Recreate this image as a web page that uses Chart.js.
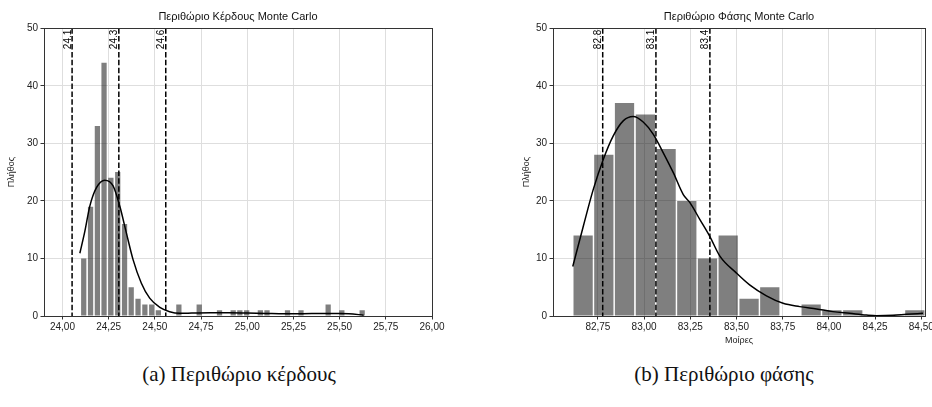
<!DOCTYPE html>
<html><head><meta charset="utf-8">
<script src="https://cdn.jsdelivr.net/npm/chart.js@4.4.1/dist/chart.umd.min.js"></script>
<style>
html,body{margin:0;padding:0;background:#fff;overflow:hidden;width:932px;height:407px;position:relative;}
#cL{position:absolute;left:0;top:0;}
#cR{position:absolute;left:509px;top:0;}
.cap{position:absolute;top:361px;font-family:"Liberation Serif",serif;font-size:21px;color:#111;white-space:nowrap;transform:translateX(-50%);line-height:26px;}
</style></head><body>
<canvas id="cL" width="460" height="340"></canvas>
<canvas id="cR" width="440" height="360"></canvas>
<div class="cap" style="left:239px">(a) Περιθώριο κέρδους</div>
<div class="cap" style="left:724px">(b) Περιθώριο φάσης</div>
<script>
// ---- Left: gain margin ----
const titleL = 'Περιθώριο Κέρδους Monte Carlo';
const binsL = [24.115,24.152,24.189,24.225,24.262,24.299,24.336,24.372,24.409,24.446,24.483,24.519,24.556,24.593,24.630,24.666,24.703,24.740,24.776,24.813,24.850,24.887,24.924,24.960,24.997,25.034,25.071,25.107,25.144,25.181,25.218,25.254,25.291,25.328,25.365,25.401,25.438,25.475,25.512,25.548,25.585,25.622];
const countsL = [10,19,33,44,24,25,16,5,3,2,2,1,0,0,2,0,0,2,0,0,1,0,1,1,1,0,1,1,0,0,1,0,1,0,0,0,2,0,1,0,0,1];
const kdeLx = [24.094,24.121,24.148,24.184,24.229,24.274,24.31,24.346,24.382,24.427,24.472,24.527,24.58,24.635,24.7,24.8,24.9,25.0,25.1,25.2,25.3,25.4,25.5,25.55,25.63];
const kdeLy = [10.9,14.7,19.1,22.3,23.6,22.6,19.1,14.4,9.8,5.7,3.1,1.5,0.75,0.47,0.5,0.55,0.55,0.5,0.45,0.4,0.4,0.45,0.45,0.4,0.15];
const vlinesL = [24.052,24.305,24.559];
const vlabelsL = ['24.1','24.3','24.6'];
const xTicksL = [24.00,24.25,24.50,24.75,25.00,25.25,25.50,25.75,26.00];

// ---- Right: phase margin ----
const titleR = 'Περιθώριο Φάσης Monte Carlo';
const binsR = [82.670,82.782,82.894,83.007,83.119,83.231,83.343,83.455,83.568,83.680,83.792,83.904,84.016,84.129,84.241,84.353,84.465];
const countsR = [14,28,37,35,29,20,10,14,3,5,0,2,1,1,0,0,1];
const kdeRx = [82.614,82.671,82.725,82.779,82.833,82.887,82.941,82.995,83.049,83.103,83.158,83.212,83.248,83.302,83.356,83.410,83.500,83.571,83.662,83.752,83.842,83.933,84.022,84.112,84.203,84.257,84.347,84.419,84.509];
const kdeRy = [8.6,15.6,22,27.2,31.3,33.9,34.65,33.7,31.6,28.4,24.9,21.1,19.7,16.75,13.8,10.4,7.45,5.4,3.5,2.2,1.63,1.22,0.76,0.47,0.17,0.06,0.12,0.29,0.47];
const vlinesR = [82.776,83.064,83.356];
const vlabelsR = ['82.8','83.1','83.4'];
const xTicksR = [82.75,83.00,83.25,83.50,83.75,84.00,84.25,84.50];

const yTicks = [0,10,20,30,40,50];
const yTitle = 'Πλήθος';
const xTitleR = 'Μοίρες';

const FONT = '"Liberation Sans", Arial, sans-serif';
const fmt = v => Number(v).toFixed(2).replace('.', ',');

const decor = {
  id: 'decor',
  afterDatasetsDraw(chart, args, opts) {
    const {ctx, chartArea: a, scales: {x}} = chart;
    ctx.save();
    opts.values.forEach((v, i) => {
      const px = x.getPixelForValue(v);
      ctx.strokeStyle = '#000';
      ctx.lineWidth = 1.5;
      ctx.setLineDash([5.5, 2.4]);
      ctx.beginPath();
      ctx.moveTo(px, a.top);
      ctx.lineTo(px, a.bottom);
      ctx.stroke();
      ctx.setLineDash([]);
      ctx.save();
      ctx.translate(px - 1.5, a.top + 1.5);
      ctx.rotate(-Math.PI / 2);
      ctx.font = '10px ' + FONT;
      ctx.fillStyle = '#000';
      ctx.textAlign = 'right';
      ctx.textBaseline = 'alphabetic';
      ctx.fillText(opts.labels[i], 0, 0);
      ctx.restore();
    });
    ctx.strokeStyle = '#333';
    ctx.lineWidth = 1;
    ctx.strokeRect(Math.round(a.left) + 0.5, Math.round(a.top) + 0.5, Math.round(a.right) - Math.round(a.left), Math.round(a.bottom) - Math.round(a.top));
    ctx.restore();
  }
};

function build(id, o) {
  const bars = o.bins.map((b, i) => ({x: b, y: o.counts[i]}));
  const kde = o.kx.map((v, i) => ({x: v, y: o.ky[i]}));
  return new Chart(document.getElementById(id), {
    type: 'bar',
    data: {
      datasets: [
        {type: 'line', data: kde, borderColor: '#000', borderWidth: 1.5, pointRadius: 0, fill: false, cubicInterpolationMode: 'monotone', order: 0},
        {type: 'bar', data: bars, backgroundColor: 'rgba(0,0,0,0.5)', borderWidth: 0, barPercentage: o.barPct, categoryPercentage: 1, order: 1}
      ]
    },
    options: {
      responsive: false,
      animation: false,
      devicePixelRatio: 1,
      layout: {padding: {left: 0, right: o.padRight, top: 0, bottom: 0}},
      plugins: {
        legend: {display: false},
        tooltip: {enabled: false},
        title: {display: true, text: o.title, fullSize: false, color: '#111', font: {family: FONT, size: 11, weight: 'normal'}, padding: {top: 10, bottom: 5}},
        decor: {values: o.vlines, labels: o.vlabels}
      },
      scales: {
        x: {
          type: 'linear', min: o.xmin, max: o.xmax, offset: false,
          afterBuildTicks: s => { s.ticks = o.xticks.map(v => ({value: v})); },
          afterFit: s => { s.height = o.xh; },
          ticks: {callback: v => fmt(v), font: {family: FONT, size: 10}, color: '#222', padding: 2, maxRotation: 0, autoSkip: false},
          grid: {offset: false, color: '#dedede', lineWidth: 1, tickColor: '#333', tickLength: 3.5},
          border: {display: false},
          title: o.xtitle ? {display: true, text: o.xtitle, color: '#222', font: {family: FONT, size: 9}, padding: {top: 0, bottom: 13.6}} : {display: false}
        },
        y: {
          min: 0, max: 50,
          afterBuildTicks: s => { s.ticks = yTicks.map(v => ({value: v})); },
          afterFit: s => { s.width = 44; },
          ticks: {font: {family: FONT, size: 10}, color: '#222', padding: 2.5},
          grid: {color: '#dedede', lineWidth: 1, tickColor: '#333', tickLength: 3.5},
          border: {display: false},
          title: {display: true, text: yTitle, color: '#222', font: {family: FONT, size: 9}, padding: {top: o.ytp, bottom: 0}}
        }
      }
    },
    plugins: [decor]
  });
}

build('cL', {title: titleL, bins: binsL, counts: countsL, kx: kdeLx, ky: kdeLy, vlines: vlinesL, vlabels: vlabelsL, xticks: xTicksL, xmin: 23.9, xmax: 26.0, padRight: 28, xh: 24, barPct: 0.79, ytp: 6.6});
build('cR', {title: titleR, bins: binsR, counts: countsR, kx: kdeRx, ky: kdeRy, vlines: vlinesR, vlabels: vlabelsR, xticks: xTicksR, xmin: 82.507, xmax: 84.52, padRight: 24, xh: 44, barPct: 0.93, ytp: 12.6, xtitle: xTitleR});
</script>
</body></html>
